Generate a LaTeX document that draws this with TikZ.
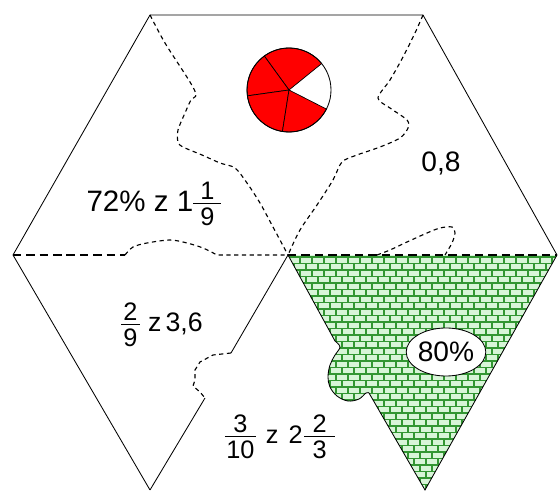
\documentclass[tikz,border=0pt]{standalone}
\usepackage{fontspec}
\setmainfont{Liberation Sans}
\usetikzlibrary{shapes.geometric}
\definecolor{brickline}{RGB}{50,150,50}
\definecolor{brickfill}{RGB}{215,245,215}
\definecolor{piered}{RGB}{255,0,0}
\setlength{\arrayrulewidth}{0.8pt}
% \fr[pad]{size}{numerator}{denominator}
\newcommand{\fr}[4][1pt]{{\renewcommand{\arraystretch}{0}%
  \begin{tabular}[c]{@{\kern#1}c@{\kern#1}}\fontsize{#2}{#2}\selectfont#3\\[2pt]\hline
  \fontsize{#2}{#2}\selectfont\rule{0pt}{0.86em}#4\end{tabular}}}
\newcommand{\greenedge}{(O) -- (G1) -- plot[smooth, tension=0.6] coordinates {(G1) (340,347) (335,355) (330,365) (328,377) (330,387) (337,396) (348,401) (359,399) (366,393) (G2)} -- (BR) -- (R)}
\begin{document}
\begin{tikzpicture}[x=0.025cm, y=-0.025cm,
  edge/.style={line width=0.6pt},
  cut/.style={line width=0.8pt, dash pattern=on 3pt off 2.5pt},
  midcut/.style={line width=0.8pt, dash pattern=on 6pt off 3.5pt},
  mortar/.style={line width=0.9pt, draw=brickline},
  lbl/.style={font=\fontsize{19}{23}\selectfont, inner sep=0pt}]
\useasboundingbox (0,0) rectangle (560,491);
\coordinate (TL) at (150,15);
\coordinate (TR) at (423,15);
\coordinate (R) at (557,255);
\coordinate (BR) at (425,490);
\coordinate (BL) at (150,490);
\coordinate (L) at (13,255);
\coordinate (O) at (288,255);
\coordinate (G1) at (335,341);
\coordinate (G2) at (369,393);
\coordinate (T1) at (231,353);
\coordinate (T2) at (205,398);
\coordinate (P) at (289,90);

\begin{scope}
\clip \greenedge -- cycle;
\fill[brickfill] (O) rectangle (560,491);
\foreach \r in {0,...,36}{
  \pgfmathsetmacro{\yy}{257+6.5*\r}
  \pgfmathsetmacro{\off}{6*mod(\r,2)}
  \draw[mortar] (288,\yy) -- (560,\yy);
  \foreach \k in {0,...,23}
    \draw[mortar] ({288+\off+12*\k},\yy) -- ++(0,6.5);
}
\end{scope}
\draw[edge] \greenedge;
%green piece

\draw[edge] (BL) -- (L) -- (TL) -- (TR) -- (R);
\draw[edge] (O) -- (T1);
\draw[cut] (T1) -- (213,355) -- (200,362) -- (195,370) -- (195,380) -- (193,386) -- (200,392) -- (T2);
\draw[edge] (T2) -- (BL);
%hexagon

\draw[cut] (TL) -- plot[smooth, tension=0.5] coordinates {(TL) (165,43) (190,82) (196,95) (191,100) (185,113) (178,130) (178,142) (183,147) (202,155) (220,163) (235,168) (247,183) (260,203) (273,227) (O)};
\draw[cut] (TR) -- plot[smooth, tension=0.5] coordinates {(TR) (415,33) (403,57) (390,80) (378,98) (390,108) (407,120) (408,128) (400,138) (380,147) (357,155) (342,162) (333,180) (317,205) (300,230) (O)};
\draw[midcut] (L) -- (125,255);
\draw[cut] (125,255) -- plot[smooth, tension=0.5] coordinates {(125,255) (133,247) (147,243) (170,240) (187,243) (203,248) (217,255)} -- (O);
\draw[midcut] (O) -- (R);
\draw[cut] (377,255) -- plot[smooth, tension=0.5] coordinates {(377,255) (390,250) (407,242) (427,233) (440,228) (452,227) (455,233) (452,243) (445,255)};
%cuts

\begin{scope}[shift={(P)}, yscale=-1]
\foreach \a/\b in {39/126, 126/188, 188/261, 261/333}
  \filldraw[fill=piered, line width=0.5pt] (0,0) -- (\a:42) arc[start angle=\a, end angle=\b, radius=42] -- cycle;
\draw[line width=0.6pt] (0,0) circle[radius=42];
\end{scope}
%pie

\node[lbl, font=\fontsize{21}{25}\selectfont] (t72) at (154,204) {72\% z 1\fr[5pt]{18}{1}{9}};
\node[lbl, font=\fontsize{20}{24}\selectfont] (t08) at (441,163) {0,8};
\node[lbl] (t29) at (162,325) {\fr[1.5pt]{18}{2}{9}\hspace{6pt}z\hspace{3pt}3,6};
\node[lbl, font=\fontsize{18}{22}\selectfont] (t310) at (280,437) {\fr{18}{3}{10}\hspace{0.4em}z\hspace{0.4em}2\hspace{1pt}\fr[6pt]{18}{2}{3}};
\node[draw, ellipse, fill=white, line width=0.6pt, inner sep=0pt, minimum width=1.6cm, minimum height=1.2cm, font=\fontsize{20}{24}\selectfont] (t80) at (446,352) {80\%};
\end{tikzpicture}
\end{document}
